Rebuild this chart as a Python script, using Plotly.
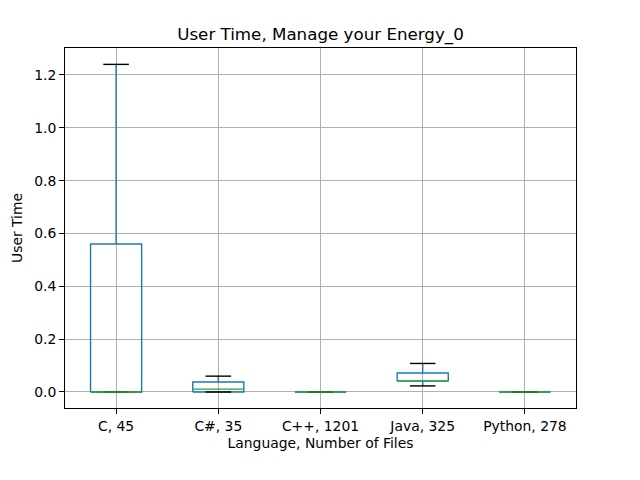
import plotly.graph_objects as go

categories = ["C, 45", "C#, 35", "C++, 1201", "Java, 325", "Python, 278"]
q1 = [0.0, 0.0, 0.0, 0.042, 0.0]
median = [0.0, 0.011, 0.0, 0.041, 0.0]
q3 = [0.56, 0.038, 0.0, 0.072, 0.0]
lower = [0.0, 0.0, 0.0, 0.023, 0.0]
upper = [1.24, 0.06, 0.0, 0.108, 0.0]
yticks = [0.0, 0.2, 0.4, 0.6, 0.8, 1.0, 1.2]

pos = list(range(1, len(categories) + 1))
hw = 0.25
cw = 0.125

bx, by, wx, wy, cx, cy, mx, my = [], [], [], [], [], [], [], []
for p, a, m, b, lo, hi in zip(pos, q1, median, q3, lower, upper):
    bx += [p - hw, p + hw, p + hw, p - hw, p - hw, None]
    by += [a, a, b, b, a, None]
    wx += [p, p, None, p, p, None]
    wy += [b, hi, None, a, lo, None]
    cx += [p - cw, p + cw, None, p - cw, p + cw, None]
    cy += [hi, hi, None, lo, lo, None]
    mx += [p - hw, p + hw, None]
    my += [m, m, None]

fig = go.Figure()
lw = 1.4
fig.add_trace(go.Scatter(x=wx, y=wy, mode="lines", line=dict(color="#1f77b4", width=lw), hoverinfo="skip"))
fig.add_trace(go.Scatter(x=bx, y=by, mode="lines", line=dict(color="#1f77b4", width=lw), hoverinfo="skip"))
fig.add_trace(go.Scatter(x=cx, y=cy, mode="lines", line=dict(color="black", width=lw), hoverinfo="skip"))
fig.add_trace(go.Scatter(x=mx, y=my, mode="lines", line=dict(color="#2ca02c", width=lw), hoverinfo="skip"))

font = "DejaVu Sans"
fig.update_layout(
    width=640, height=480,
    margin=dict(l=57, r=72, t=40, b=80, autoexpand=False),
    paper_bgcolor="white", plot_bgcolor="white",
    showlegend=False,
    font=dict(family=font, size=13.9, color="black"),
    title=dict(text="User Time, Manage your Energy_0", x=(57 + 568) / 2 / 640, xanchor="center",
               y=1 - 26 / 480, yanchor="middle", font=dict(size=16.7, family=font)),
    xaxis=dict(range=[0.5, 5.5], tickvals=pos, ticktext=categories, automargin=False,
               showgrid=True, gridcolor="#b0b0b0", gridwidth=1, zeroline=False,
               showline=True, linecolor="black", linewidth=1, mirror=True,
               ticks="outside", ticklen=5, tickcolor="black",
               title=dict(text="Language, Number of Files", font=dict(size=13.9), standoff=5)),
    yaxis=dict(range=[-0.0606, 1.302], tickvals=yticks, tickformat=".1f", automargin=False,
               showgrid=True, gridcolor="#b0b0b0", gridwidth=1, zeroline=False,
               showline=True, linecolor="black", linewidth=1, mirror=True,
               ticks="outside", ticklen=5, tickcolor="black",
               title=dict(text="User Time", font=dict(size=13.9), standoff=8)),
)
fig.write_html("out.html")
